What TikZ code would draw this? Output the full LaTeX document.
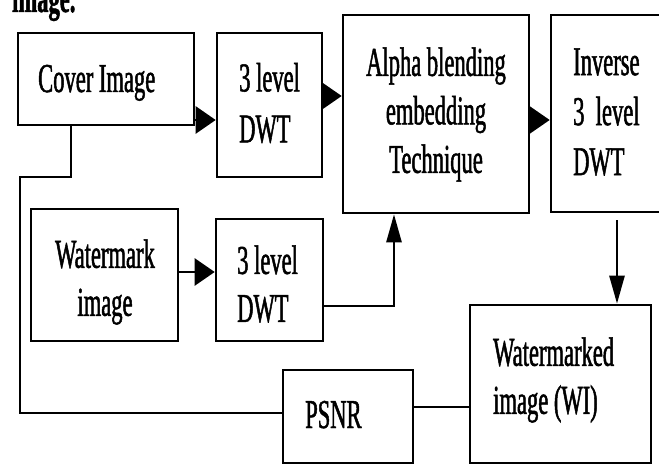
\documentclass[tikz,border=0pt]{standalone}
\usepackage{fontspec}
\setmainfont{Liberation Serif}[FakeStretch=0.55,FakeBold=1.2]
\usetikzlibrary{arrows.meta}
\tikzset{
  box/.style={draw, line width=2.6pt, rectangle, inner sep=0pt, minimum width=#1},
  lbl/.style={inner sep=0pt, font=\fontsize{41}{49}\selectfont},
  conn/.style={line width=2.6pt},
  harrow/.style={conn, -{Triangle[length=20pt,width=27pt]}},
  varrow/.style={conn, -{Triangle[length=28pt,width=15pt]}},
}
\begin{document}
\begin{tikzpicture}[x=1pt,y=-1pt]
\useasboundingbox (0,0) rectangle (659,465);
\clip (0,0) rectangle (659,465);
\fill[white] (0,0) rectangle (659,465);

% partial caption text at top
\node[lbl, anchor=base west, font=\fontsize{41}{49}\selectfont\bfseries] (cap) at (12,12) {image.};

% boxes
\node[box=176pt, minimum height=92pt] (cover) at (106,79) {};
\node[box=105pt, minimum height=144pt] (dwt1) at (269.5,105) {};
\node[box=186pt, minimum height=198pt] (alpha) at (436,114) {};
\node[box=114pt, minimum height=197pt] (inv) at (608,113.5) {};
\node[box=147pt, minimum height=132pt] (wm) at (104.5,275) {};
\node[box=107pt, minimum height=122pt] (dwt2) at (269.5,280) {};
\node[box=181pt, minimum height=158pt] (wi) at (560.5,384) {};
\node[box=130pt, minimum height=93pt] (psnr) at (348,416.5) {};

% texts
\node[lbl, anchor=base west] (tcover) at (38,92) {Cover Image};
\node[lbl, align=left, anchor=west, font=\fontsize{41}{51}\selectfont] (tdwt1) at (239,103) {3 level\\DWT};
\node[lbl, align=center, font=\fontsize{41}{48.5}\selectfont] (talpha) at (436,114.5) {Alpha blending\\embedding\\Technique};
\node[lbl, align=left, anchor=west, font=\fontsize{41}{50}\selectfont] (tinv) at (573,112) {Inverse\\3~ level\\DWT};
\node[lbl, align=center, font=\fontsize{41}{48}\selectfont] (twm) at (105,282) {Watermark\\image};
\node[lbl, align=left, anchor=west, font=\fontsize{41}{48}\selectfont] (tdwt2) at (237,284) {3 level\\DWT};
\node[lbl, align=left, anchor=west, font=\fontsize{41}{48}\selectfont] (twi) at (493,380) {Watermarked\\image (WI)};
\node[lbl, anchor=base west] (tpsnr) at (305,428) {PSNR};

% connectors
\draw[harrow] (cover.east |- 0,120) -- (dwt1.west |- 0,120);
\draw[harrow] (dwt1.east |- 0,96) -- (alpha.west |- 0,96);
\draw[harrow] (alpha.east |- 0,120) -- (inv.west |- 0,120);
\draw[varrow, shorten <=7pt] (inv.south -| 617,0) -- (wi.north -| 617,0);
\draw[harrow] (wm.east |- 0,272) -- (dwt2.west |- 0,272);
\draw[varrow] (dwt2.east |- 0,306) -| (alpha.south -| 394,0);
\draw[conn] (cover.south -| 71,0) -- (71,177) -- (20,177) |- (psnr.west |- 0,413);
\draw[conn] (psnr.east |- 0,407) -- (wi.west |- 0,407);
\end{tikzpicture}
\end{document}
